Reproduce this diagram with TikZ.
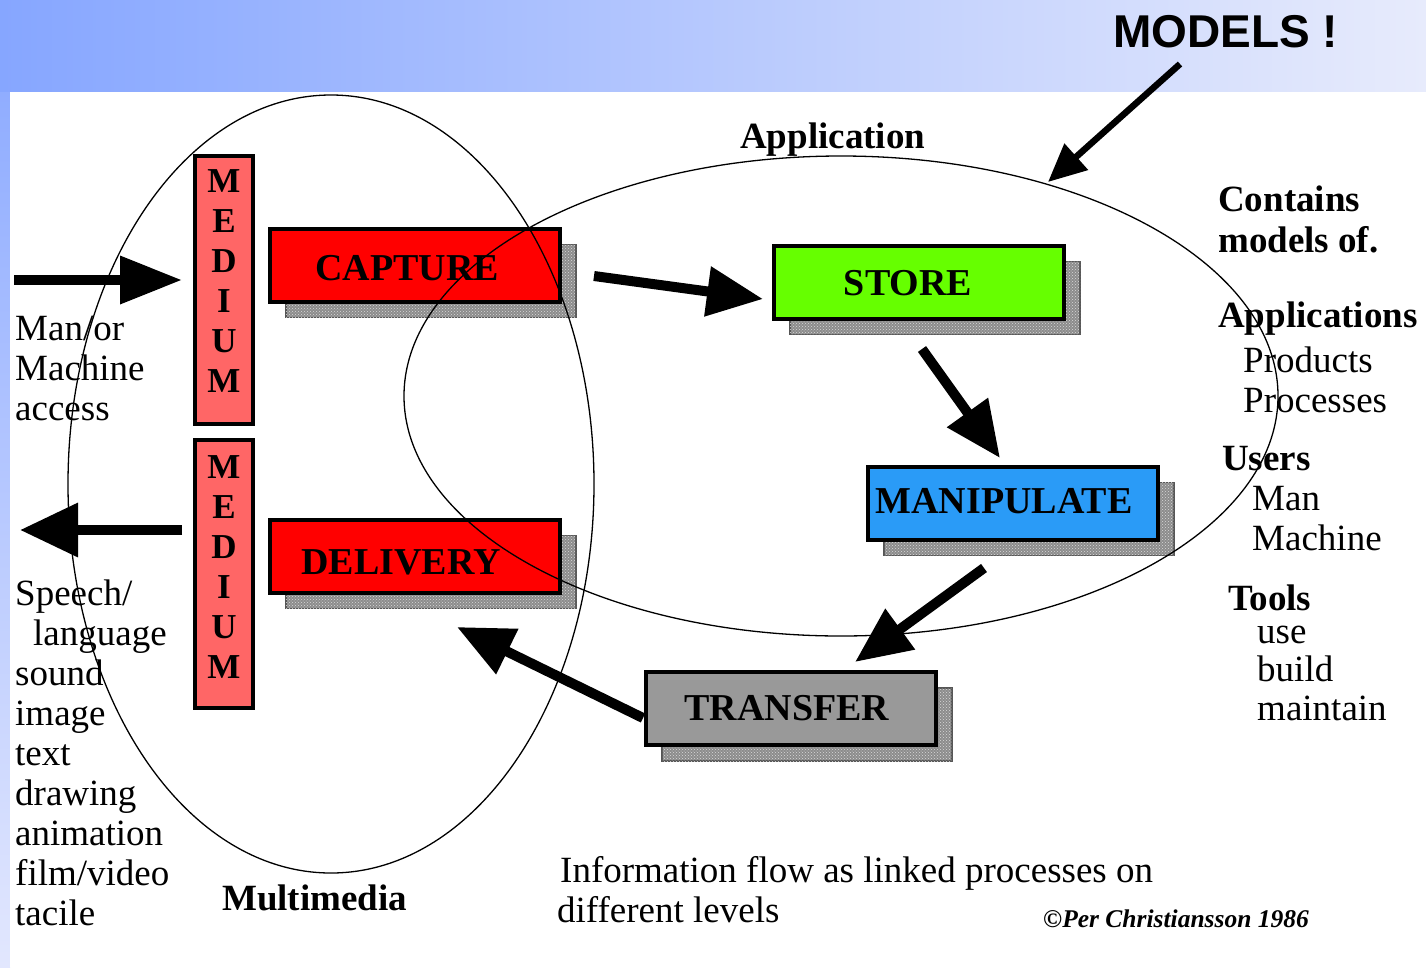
\documentclass[tikz,border=0pt]{standalone}
\usepackage{fontspec}
\setmainfont{Liberation Serif}
\newfontfamily\headsans{Liberation Sans}
\usetikzlibrary{arrows.meta,patterns}

\definecolor{bgdark}{HTML}{86A6FF}
\definecolor{bgmid}{HTML}{C9D4FF}
\definecolor{bglight}{HTML}{E7EBFC}
\definecolor{stripend}{HTML}{E2E7FE}
\definecolor{redbox}{HTML}{FF0000}
\definecolor{mediumfill}{HTML}{FF6666}
\definecolor{greenbox}{HTML}{66FF00}
\definecolor{bluebox}{HTML}{2A9BF7}
\definecolor{greybox}{HTML}{999999}
\definecolor{shadowfill}{HTML}{8C8C8C}
\definecolor{shadowline}{HTML}{555555}

\begin{document}
\begin{tikzpicture}[x=1pt,y=-1pt,
  procbox/.style={draw=black, line width=4pt, inner sep=0pt,
    minimum width=290pt, minimum height=73pt,
    preaction={fill=shadowfill, draw=shadowline, line width=1.2pt,
      transform canvas={shift={(16pt,-16pt)}}},
    preaction={pattern=crosshatch dots, pattern color=white!85!black,
      transform canvas={shift={(16pt,-16pt)}}}},
  mediumbox/.style={draw=black, line width=4pt, fill=mediumfill, inner sep=0pt,
    minimum width=58pt, minimum height=268pt},
  boxlabel/.style={inner sep=0pt, font=\fontsize{38}{40}\selectfont\bfseries},
  medlabel/.style={inner sep=0pt, align=center, font=\fontsize{35}{40}\selectfont\bfseries},
  txt/.style={anchor=base west, inner sep=0pt, font=\fontsize{37}{40}\selectfont},
  btxt/.style={anchor=base west, inner sep=0pt, font=\fontsize{37}{40}\selectfont\bfseries},
  flow/.style={line width=10pt, -{Triangle[length=56pt,width=48pt]}},
  ring/.style={draw=black, line width=1.3pt},
]
\useasboundingbox (0,0) rectangle (1426,967);

% slide background: blue gradient band on top and left, white panel
\shade[left color=bgdark, middle color=bgmid, right color=bglight] (0,0) rectangle (1426,92);
\shade[top color=bgdark!85!bgmid, bottom color=stripend] (0,92) rectangle (10,967);
\fill[white] (10,92) rectangle (1426,967);

% medium columns
\node[mediumbox] (med1) at (224,290) {};
\node[medlabel] (med1t) at (224,281) {M\\E\\D\\I\\U\\M};
\node[mediumbox] (med2) at (224,573.5) {};
\node[medlabel] (med2t) at (224,567) {M\\E\\D\\I\\U\\M};

% process boxes with dotted drop shadows
\node[procbox, fill=redbox] (capture) at (415,265) {};
\node[boxlabel] (capturet) at (407,268) {CAPTURE};
\node[procbox, fill=redbox] (delivery) at (415,556) {};
\node[boxlabel] (deliveryt) at (401,562) {DELIVERY};
\node[procbox, fill=greenbox] (store) at (919,282) {};
\node[boxlabel] (storet) at (908,283) {STORE};
\node[procbox, fill=bluebox] (manip) at (1013,503) {};
\node[boxlabel] (manipt) at (1004,501) {MANIPULATE};
\node[procbox, fill=greybox] (transfer) at (791,708.5) {};
\node[boxlabel] (transfert) at (787,708) {TRANSFER};

% the two domains
\draw[ring] (331,484) ellipse [x radius=263, y radius=389];
\draw[ring] (841,396) ellipse [x radius=437, y radius=240];

% flow arrows
\coordinate (inS) at (14,280);   \coordinate (inE) at (182,280);
\coordinate (outS) at (182,530); \coordinate (outE) at (20,530);
\coordinate (csS) at (594,276);  \coordinate (csE) at (763,299);
\coordinate (smS) at (922,349);  \coordinate (smE) at (1000,458);
\coordinate (mtS) at (984,568);  \coordinate (mtE) at (855,662);
\coordinate (tdS) at (643,718);  \coordinate (tdE) at (457,627);
\coordinate (moS) at (1180,64);  \coordinate (moE) at (1048,182);
\draw[line width=10pt, -{Triangle[length=62pt,width=46pt]}] (inS) -- (inE);
\draw[line width=10pt, -{Triangle[length=58pt,width=52pt]}] (outS) -- (outE);
\draw[flow] (csS) -- (csE);
\draw[flow] (smS) -- (smE);
\draw[flow] (mtS) -- (mtE);
\draw[flow] (tdS) -- (tdE);
\draw[line width=6.5pt, -{Triangle[length=38pt,width=34pt]}] (moS) -- (moE);

% headline
\node[anchor=base west, inner sep=0pt, font=\headsans\bfseries\fontsize{46}{50}\selectfont]
  (models) at (1113,47) {MODELS !};

% titles
\node[btxt] (apptitle) at (740,148) {Application};
\node[btxt] (mmtitle) at (222,910) {Multimedia};

% left side: access and media
\node[txt] (l1) at (15,340) {Man/or};
\node[txt] (l2) at (15,380) {Machine};
\node[txt] (l3) at (15,420) {access};
\node[txt] (m1) at (15,605) {Speech/};
\node[txt] (m2) at (33,645) {language};
\node[txt] (m3) at (15,685) {sound};
\node[txt] (m4) at (15,725) {image};
\node[txt] (m5) at (15,765) {text};
\node[txt] (m6) at (15,805) {drawing};
\node[txt] (m7) at (15,845) {animation};
\node[txt] (m8) at (15,885) {film/video};
\node[txt] (m9) at (15,925) {tacile};

% right side: what the application holds
\node[btxt] (r1) at (1218,211) {Contains};
\node[btxt] (r2) at (1218,252) {models of.};
\node[btxt] (r3) at (1218,327) {Applications};
\node[txt] (r4) at (1243,372) {Products};
\node[txt] (r5) at (1243,412) {Processes};
\node[btxt] (r6) at (1222,470) {Users};
\node[txt] (r7) at (1252,510) {Man};
\node[txt] (r8) at (1252,550) {Machine};
\node[btxt] (r9) at (1228,610) {Tools};
\node[txt] (r10) at (1257,643) {use};
\node[txt] (r11) at (1257,681) {build};
\node[txt] (r12) at (1257,720) {maintain};

% caption and credit
\node[txt] (cap1) at (560,882) {Information flow as linked processes on};
\node[txt] (cap2) at (557,922) {different levels};
\node[anchor=base west, inner sep=0pt, font=\fontsize{25.5}{27}\selectfont\bfseries\itshape]
  (credit) at (1043,927) {\char"00A9 Per Christiansson 1986};
\end{tikzpicture}
\end{document}
